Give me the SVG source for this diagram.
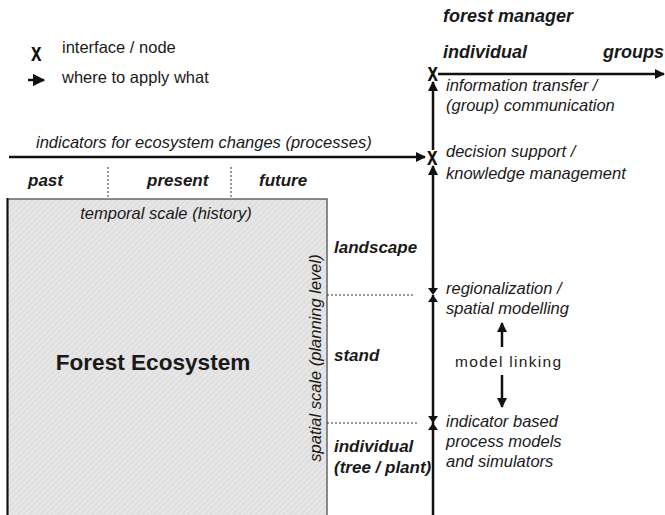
<svg xmlns="http://www.w3.org/2000/svg" width="665" height="515" viewBox="0 0 665 515">
<style>
.t{font-family:"Liberation Sans",Arial,sans-serif;font-size:16.5px;fill:#1a1a1a}
.i{font-style:italic}
.b{font-weight:bold}
.h{font-size:17px}
.x{font-family:"Liberation Sans",Arial,sans-serif;font-weight:bold;font-size:21px;fill:#111}
.ln{stroke:#111;stroke-width:2.5;fill:none}
.dot{stroke:#333;stroke-width:1;stroke-dasharray:2,2;fill:none}
</style>
<defs>
<pattern id="hatch" width="4" height="4" patternUnits="userSpaceOnUse" patternTransform="rotate(45)">
<rect width="4" height="4" fill="#e6e6e6"/>
<line x1="0" y1="0" x2="0" y2="4" stroke="#d2d2d2" stroke-width="1.2"/>
</pattern>
<marker id="ah" viewBox="0 0 10 10" refX="9" refY="5" markerWidth="4" markerHeight="4" orient="auto" markerUnits="strokeWidth">
<path d="M0,0 L10,5 L0,10 z" fill="#111"/>
</marker>
<marker id="ahs" viewBox="0 0 10 10" refX="9" refY="5" markerWidth="5" markerHeight="5" orient="auto" markerUnits="strokeWidth">
<path d="M0,0 L10,5 L0,10 z" fill="#111"/>
</marker>
</defs>

<g id="legend">
<text class="x" transform="translate(31,61) scale(0.9,1.2)">x</text>
<text class="t" x="62" y="53">interface / node</text>
<line x1="28" y1="80" x2="44" y2="80" class="ln" stroke-width="2" marker-end="url(#ahs)"/>
<text class="t" x="62" y="83">where to apply what</text>
</g>

<g id="ecosystem">
<rect x="7.5" y="199" width="319.5" height="330" fill="url(#hatch)" stroke="#666" stroke-width="1.5"/>
<line x1="7.5" y1="198" x2="7.5" y2="515" stroke="#111" stroke-width="2"/>
<text class="t i" x="166" y="219" text-anchor="middle">temporal scale (history)</text>
<text class="t b" x="153" y="370" text-anchor="middle" style="font-size:22.6px">Forest Ecosystem</text>
<text class="t i" transform="translate(321,358) rotate(-90)" text-anchor="middle">spatial scale (planning level)</text>
</g>

<g id="indicators">
<text class="t i" x="36" y="148">indicators for ecosystem changes (processes)</text>
</g>

<g id="time">
<text class="t i b h" x="28" y="186">past</text>
<text class="t i b h" x="147" y="186">present</text>
<text class="t i b h" x="259" y="186">future</text>
</g>

<g id="levels">
<text class="t i b h" x="334" y="253">landscape</text>
<text class="t i b h" x="334" y="361">stand</text>
<text class="t i b h" x="334" y="452">individual</text>
<text class="t i b h" x="334" y="473">(tree / plant)</text>
</g>

<g id="manager">
<text class="t i b" x="443" y="22" style="font-size:18px">forest manager</text>
<text class="t i b" x="443" y="58" style="font-size:18px">individual</text>
<text class="t i b" x="664" y="58" text-anchor="end" style="font-size:18px">groups</text>
</g>

<g id="node-info">
<text class="x" transform="translate(427.5,81) scale(0.9,1.2)">x</text>
<text class="t i" x="446" y="91">information transfer /</text>
<text class="t i" x="446" y="111">(group) communication</text>
</g>

<g id="node-decision">
<text class="x" transform="translate(427,165) scale(0.9,1.2)">x</text>
<text class="t i" x="446" y="157">decision support /</text>
<text class="t i" x="446" y="179">knowledge management</text>
</g>

<g id="node-region">
<text class="t i" x="446" y="294">regionalization /</text>
<text class="t i" x="446" y="314">spatial modelling</text>
</g>

<g id="node-indicator">
<text class="t i" x="446" y="427">indicator based</text>
<text class="t i" x="446" y="447">process models</text>
<text class="t i" x="446" y="467">and simulators</text>
</g>

<g id="linking">
<text class="t" x="455" y="367" style="font-size:15.5px;letter-spacing:1.3px">model linking</text>
</g>

<g id="connectors">
<line x1="9" y1="157" x2="425" y2="157" class="ln" marker-end="url(#ah)"/>
<line x1="108" y1="167" x2="108" y2="198" class="dot"/>
<line x1="231" y1="167" x2="231" y2="198" class="dot"/>
<line x1="327" y1="295" x2="415" y2="295" class="dot"/>
<line x1="327" y1="423" x2="417" y2="423" class="dot"/>
<line x1="438" y1="74" x2="664" y2="74" class="ln" stroke-width="2" marker-end="url(#ah)"/>
<line x1="433" y1="150" x2="433" y2="82" class="ln" marker-end="url(#ah)"/>
<line x1="433" y1="290" x2="433" y2="166" class="ln" marker-end="url(#ah)"/>
<line x1="433" y1="515" x2="433" y2="295" class="ln"/>
<path d="M428,288 L438,288 L433,295 z M428,302 L438,302 L433,295 z" fill="#111"/>
<path d="M428,416 L438,416 L433,423 z M428,430 L438,430 L433,423 z" fill="#111"/>
<line x1="502" y1="347" x2="502" y2="323" class="ln" stroke-width="2" marker-end="url(#ah)"/>
<line x1="502" y1="375" x2="502" y2="407" class="ln" stroke-width="2" marker-end="url(#ah)"/>
</g>
</svg>
